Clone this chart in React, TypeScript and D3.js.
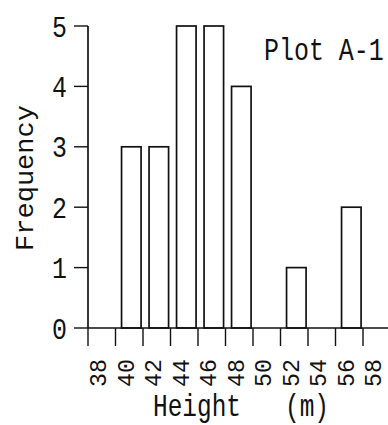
import React from "react";
import * as d3 from "d3";

const binStarts = [40, 42, 44, 46, 48, 50, 52, 54, 56];
const frequencies = [3, 3, 5, 5, 4, 0, 1, 0, 2];
const xTickValues = [38, 40, 42, 44, 46, 48, 50, 52, 54, 56, 58];
const yTickValues = [0, 1, 2, 3, 4, 5];
const xLabel = "Height   (m)";
const yLabel = "Frequency";
const plotTitle = "Plot A-1";

const FONT = "'Liberation Mono', 'DejaVu Sans Mono', monospace";
const INK = "#111";

export default function App() {
  const x = d3.scaleLinear().domain([38, 60]).range([88, 390.5]);
  const y = d3.scaleLinear().domain([0, 5]).range([328, 26]);
  const sw = 1.7;

  return (
    <svg
      width={388}
      height={425}
      style={{ position: "absolute", left: 0, top: 0, background: "#fff" }}
    >
      {binStarts.map((b, i) =>
        frequencies[i] > 0 ? (
          <rect
            key={b}
            x={x(b + 0.44)}
            y={y(frequencies[i])}
            width={x(b + 1.86) - x(b + 0.44)}
            height={y(0) - y(frequencies[i])}
            fill="none"
            stroke={INK}
            strokeWidth={sw}
          />
        ) : null
      )}
      <line x1={x(38)} x2={x(60)} y1={y(0)} y2={y(0)} stroke={INK} strokeWidth={sw} />
      <line x1={x(38)} x2={x(38)} y1={y(0)} y2={y(5)} stroke={INK} strokeWidth={sw} />
      {yTickValues.map((t) => (
        <g key={"y" + t}>
          <line x1={74} x2={x(38)} y1={y(t)} y2={y(t)} stroke={INK} strokeWidth={1.4} />
          <text
            transform={`translate(67,${y(t) + 10.5}) scale(0.83,1)`}
            textAnchor="end"
            fontFamily={FONT}
            fontSize={30}
            fill={INK}
          >
            {t}
          </text>
        </g>
      ))}
      {xTickValues.map((t) => (
        <g key={"x" + t}>
          <line x1={x(t)} x2={x(t)} y1={y(0)} y2={346} stroke={INK} strokeWidth={1.4} />
          <text
            transform={`translate(${x(t) + 18},359) rotate(-90) scale(1.01,1)`}
            textAnchor="end"
            fontFamily={FONT}
            fontSize={23}
            fill={INK}
          >
            {t}
          </text>
        </g>
      ))}
      <text
        transform={`translate(33,178) rotate(-90) scale(1.04,1)`}
        textAnchor="middle"
        fontFamily={FONT}
        fontSize={26}
        fill={INK}
      >
        {yLabel}
      </text>
      <text
        transform={`translate(153,416) scale(0.764,1)`}
        fontFamily={FONT}
        fontSize={32}
        fill={INK}
        style={{ whiteSpace: "pre" }}
      >
        {xLabel}
      </text>
      <text
        transform={`translate(264,60) scale(0.78,1)`}
        fontFamily={FONT}
        fontSize={32}
        fill={INK}
        style={{ whiteSpace: "pre" }}
      >
        {plotTitle}
      </text>
    </svg>
  );
}
